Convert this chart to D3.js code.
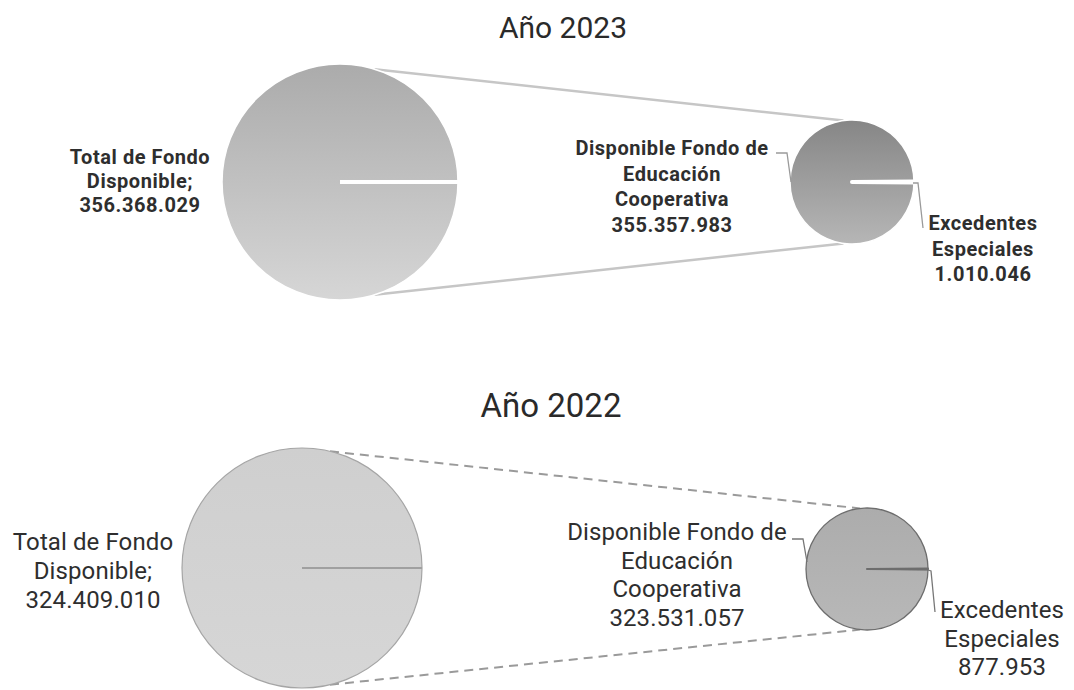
<!DOCTYPE html>
<html>
<head>
<meta charset="utf-8">
<script src="https://cdn.jsdelivr.net/npm/d3@7"></script>
<style>
    body { margin: 0; background: #fff; }
    svg { display: block; font-family: Roboto, "Noto Sans", sans-serif; }
</style>
</head>
<body>
<svg id="chart" width="1074" height="690"></svg>
<script>

// values
var years             = ["2023", "2022"];
var totalDisponible   = [356368029, 324409010];
var fondoEducacion    = [355357983, 323531057];
var excedentes        = [1010046, 877953];

var labelTotal        = ["Total de Fondo", "Disponible;"];
var labelFondo        = ["Disponible Fondo de", "Educación", "Cooperativa"];
var labelExcedentes   = ["Excedentes", "Especiales"];

var fmt = d3.formatLocale({ decimal: ",", thousands: ".", grouping: [3], currency: ["$", ""] }).format(",d");

// one layout per year, top to bottom
var panels = [
    {
        title: { x: 563, y: 38, size: 30 },
        big:   { x: 340, y: 182, r: 118, top: "#ababab", bottom: "#d6d6d6", stroke: "#fff", sep: "#fff", sepW: 4 },
        small: { x: 852, y: 182, r: 62,  top: "#868686", bottom: "#b6b6b6", stroke: "#fff", sep: "#fff", sepW: 4 },
        link:  { a0: 17, a1: -8, color: "#c6c6c6", width: 2.5, dash: null },
        font:  { size: 20, weight: 700, spacing: 0.55, step: 25.5 },
        total: { x: 140, y: 157, step: 24 },
        fondo: { x: 672, y: 148, leader: [[776, 153], [787, 153], [791, 182]] },
        exced: { x: 983, y: 223, leader: [[913, 183], [918, 183], [923, 228]] }
    },
    {
        title: { x: 551, y: 417, size: 33 },
        big:   { x: 302, y: 568, r: 120, top: "#cfcfcf", bottom: "#d6d6d6", stroke: "#a5a5a5", sep: "#a0a0a0", sepW: 2 },
        small: { x: 867, y: 569, r: 61,  top: "#acacac", bottom: "#b8b8b8", stroke: "#6d6d6d", sep: "#6d6d6d", sepW: 1.8 },
        link:  { a0: 13.5, a1: -6.5, color: "#9a9a9a", width: 2, dash: "9,6" },
        font:  { size: 24, weight: 400, spacing: 0.1, step: 28.5 },
        total: { x: 93, y: 542, step: 29 },
        fondo: { x: 677, y: 532, leader: [[792, 539], [803, 539], [807, 562]] },
        exced: { x: 1002, y: 610, leader: [[928, 570], [931, 571], [935, 612]] }
    }
];

var svg  = d3.select("#chart"),
    defs = svg.append("defs");

function gradient (id, top, bottom) {
    var g = defs.append("linearGradient")
        .attr("id", id)
        .attr("x1", 0).attr("y1", 0)
        .attr("x2", 0).attr("y2", 1);
    g.append("stop").attr("offset", "0%").attr("stop-color", top);
    g.append("stop").attr("offset", "100%").attr("stop-color", bottom);
    return "url(#" + id + ")";
}

function lines (g, x, y, step, texts, font) {
    g.append("text")
        .attr("text-anchor", "middle")
        .attr("fill", "#2e2e2e")
        .style("font-size", font.size + "px")
        .style("font-weight", font.weight)
        .style("letter-spacing", font.spacing + "px")
        .selectAll("tspan")
        .data(texts)
        .enter()
        .append("tspan")
        .attr("x", x)
        .attr("y", function (d, i) { return y + i * step; })
        .attr("dy", "0.35em")
        .text(function (d) { return d; });
}

function leader (g, pts, color) {
    g.append("path")
        .attr("d", d3.line()(pts))
        .attr("fill", "none")
        .attr("stroke", color)
        .attr("stroke-width", 1.3);
}

years.forEach(function (year, i) {

    var p = panels[i],
        g = svg.append("g").attr("class", "year-" + year);

    g.append("text")
        .attr("x", p.title.x)
        .attr("y", p.title.y)
        .attr("text-anchor", "middle")
        .attr("fill", "#2a2a2a")
        .style("font-size", p.title.size + "px")
        .text("Año " + year);

    // connectors between the two pies
    [1, -1].forEach(function (side) {
        var a = p.link.a0 * Math.PI / 180, b = p.link.a1 * Math.PI / 180,
            from = side > 0 ? d3.pointRadial(a, p.big.r) : d3.pointRadial(Math.PI - a, p.big.r),
            to   = side > 0 ? d3.pointRadial(b, p.small.r) : d3.pointRadial(Math.PI - b, p.small.r);
        g.append("line")
            .attr("x1", p.big.x + from[0]).attr("y1", p.big.y + from[1])
            .attr("x2", p.small.x + to[0]).attr("y2", p.small.y + to[1])
            .attr("stroke", p.link.color)
            .attr("stroke-width", p.link.width)
            .attr("stroke-dasharray", p.link.dash);
    });

    // first pie: the whole fund, split at the right-hand radius
    var bigArc = d3.arc().innerRadius(0).outerRadius(p.big.r),
        bigPie = d3.pie().sort(null).startAngle(Math.PI / 2).endAngle(Math.PI / 2 + 2 * Math.PI);

    var big = g.append("g").attr("transform", "translate(" + p.big.x + "," + p.big.y + ")");

    big.selectAll("path")
        .data(bigPie([totalDisponible[i]]))
        .enter()
        .append("path")
        .attr("d", bigArc)
        .attr("fill", gradient("big" + year, p.big.top, p.big.bottom))
        .attr("stroke", p.big.stroke)
        .attr("stroke-width", i === 0 ? 1.5 : 1.2);

    var sepEnd = d3.pointRadial(Math.PI / 2, p.big.r);
    big.append("line")
        .attr("x1", 0).attr("y1", 0)
        .attr("x2", sepEnd[0]).attr("y2", sepEnd[1])
        .attr("stroke", p.big.sep)
        .attr("stroke-width", p.big.sepW);

    // second pie: fondo vs excedentes, the thin slice centred on the right-hand radius
    var half  = Math.PI * excedentes[i] / (excedentes[i] + fondoEducacion[i]),
        start = Math.PI / 2 - half;

    var smallArc = d3.arc().innerRadius(0).outerRadius(p.small.r),
        smallPie = d3.pie().sort(null)
            .startAngle(start)
            .endAngle(start + 2 * Math.PI);

    var small = g.append("g").attr("transform", "translate(" + p.small.x + "," + p.small.y + ")"),
        smallFill = gradient("small" + year, p.small.top, p.small.bottom);

    small.selectAll("path")
        .data(smallPie([excedentes[i], fondoEducacion[i]]))
        .enter()
        .append("path")
        .attr("d", smallArc)
        .attr("fill", smallFill)
        .attr("stroke", function (d, k) { return k === 0 ? p.small.sep : p.small.stroke; })
        .attr("stroke-width", function (d, k) { return k === 0 ? p.small.sepW : (i === 0 ? 1.5 : 1.3); })
        .attr("stroke-linejoin", "round")
        .sort(function (a, b) { return a.index === 0 ? 1 : -1; });

    // labels
    lines(g, p.total.x, p.total.y, p.total.step, labelTotal.concat(fmt(totalDisponible[i])), p.font);
    lines(g, p.fondo.x, p.fondo.y, p.font.step, labelFondo.concat(fmt(fondoEducacion[i])), p.font);
    lines(g, p.exced.x, p.exced.y, p.font.step, labelExcedentes.concat(fmt(excedentes[i])), p.font);

    leader(g, p.fondo.leader, i === 0 ? "#9a9a9a" : "#777");
    leader(g, p.exced.leader, i === 0 ? "#9a9a9a" : "#777");
});

</script>
</body>
</html>
